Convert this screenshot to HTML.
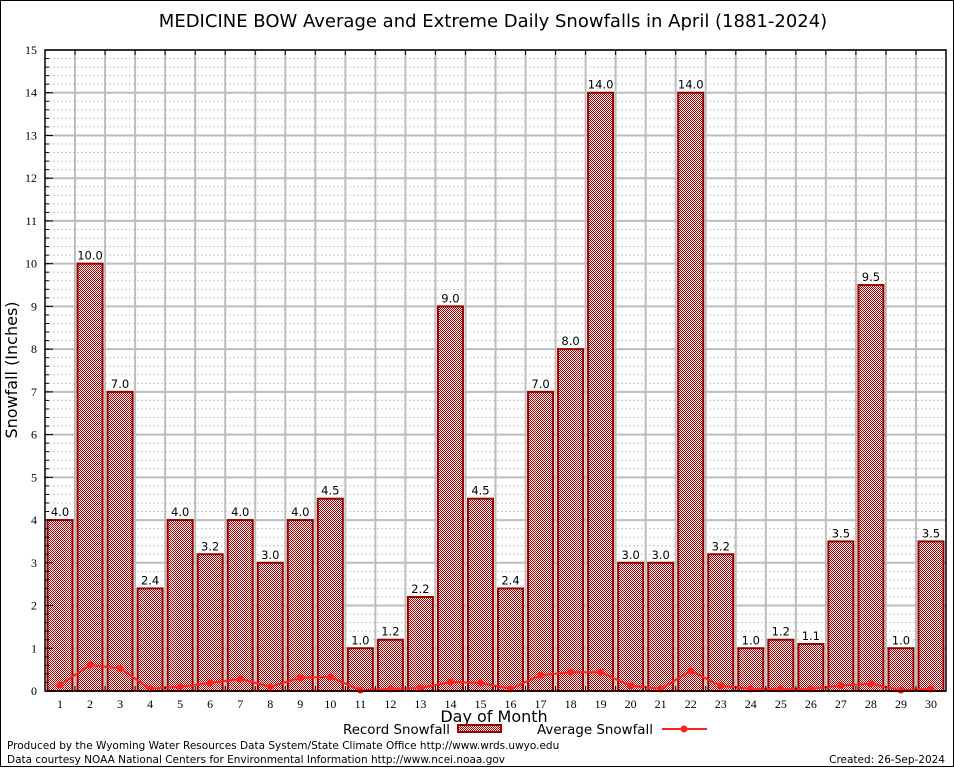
<!DOCTYPE html>
<html><head><meta charset="utf-8"><style>
html,body{margin:0;padding:0;background:#fff}
svg{display:block}
</style></head><body>
<svg id="chart" width="954" height="768" xmlns="http://www.w3.org/2000/svg" font-family="DejaVu Sans, Liberation Sans, sans-serif">
<defs>
<pattern id="chk" width="2" height="2" patternUnits="userSpaceOnUse">
<rect width="2" height="2" fill="#fff"/><rect width="1" height="1" fill="#a80000"/><rect x="1" y="1" width="1" height="1" fill="#a80000"/>
</pattern>
</defs>
<rect x="0.5" y="0.5" width="953" height="766" fill="#fff" stroke="#000"/>
<text x="493" y="27" text-anchor="middle" font-size="18">MEDICINE BOW Average and Extreme Daily Snowfalls in April (1881-2024)</text>
<g id="grid"></g>
<g id="bars"></g>
<g id="avg"></g>
<g id="axes"></g>
<text transform="translate(17,370) rotate(-90)" text-anchor="middle" font-size="16">Snowfall (Inches)</text>
<text x="494" y="722" text-anchor="middle" font-size="16">Day of Month</text>
<g>
<text x="343" y="734" font-size="13" textLength="107" lengthAdjust="spacingAndGlyphs">Record Snowfall</text>
<rect x="458" y="725" width="43" height="7" fill="url(#chk)" stroke="#990000" stroke-width="2"/>
</g>
<g>
<text x="537" y="734" font-size="13" textLength="116" lengthAdjust="spacingAndGlyphs">Average Snowfall</text>
<line x1="662" y1="729" x2="707" y2="729" stroke="#ff2020" stroke-width="2"/>
<circle cx="684" cy="729" r="3.5" fill="#ff2020"/>
</g>
<text x="7" y="749" font-size="10.5">Produced by the Wyoming Water Resources Data System/State Climate Office http://www.wrds.uwyo.edu</text>
<text x="7" y="763" font-size="10.5">Data courtesy NOAA National Centers for Environmental Information http://www.ncei.noaa.gov</text>
<text x="945" y="763" text-anchor="end" font-size="10.5">Created: 26-Sep-2024</text>
</svg>
<script>
const days=[1,2,3,4,5,6,7,8,9,10,11,12,13,14,15,16,17,18,19,20,21,22,23,24,25,26,27,28,29,30];
const recordValues=[4.0,10.0,7.0,2.4,4.0,3.2,4.0,3.0,4.0,4.5,1.0,1.2,2.2,9.0,4.5,2.4,7.0,8.0,14.0,3.0,3.0,14.0,3.2,1.0,1.2,1.1,3.5,9.5,1.0,3.5];
const averageValues=[0.14,0.61,0.53,0.05,0.1,0.19,0.28,0.1,0.31,0.33,0.02,0.05,0.07,0.21,0.19,0.05,0.37,0.44,0.44,0.12,0.05,0.47,0.12,0.05,0.05,0.05,0.13,0.17,0.02,0.05];
const yTicks=[0,1,2,3,4,5,6,7,8,9,10,11,12,13,14,15];
const NS='http://www.w3.org/2000/svg';
const L=45,R=946,T=50,B=691,YMAX=15;
const bw=(R-L)/days.length;
const xS=i=>L+bw*(i+0.5);
const yS=v=>B-(v/YMAX)*(B-T);
function mk(tag,attrs,parent){const e=document.createElementNS(NS,tag);for(const k in attrs)e.setAttribute(k,attrs[k]);parent.appendChild(e);return e;}
const grid=document.getElementById('grid'),bars=document.getElementById('bars'),avg=document.getElementById('avg'),axes=document.getElementById('axes');
for(let v=0.2;v<YMAX;v+=0.2){const g=mk('line',{x1:L,x2:R,y1:yS(v),y2:yS(v),stroke:'#c8c8c8','stroke-width':1,'stroke-dasharray':'2,2'},grid);

}
yTicks.forEach(v=>{const g=mk('line',{x1:L,x2:R,y1:yS(v),y2:yS(v),stroke:'#bdbdbd','stroke-width':2},grid);


const t=mk('text',{x:L-8,y:yS(v)+4,'text-anchor':'end','font-size':12,'font-family':'Liberation Serif, serif'},axes);t.textContent=v;


mk('line',{x1:L,x2:L+8,y1:yS(v),y2:yS(v),stroke:'#000','stroke-width':1},axes);});
for(let v=0.2;v<YMAX;v+=0.2){mk('line',{x1:L,x2:L+4,y1:yS(v),y2:yS(v),stroke:'#000','stroke-width':1},axes);}
for(let i=1;i<days.length;i++){const x=L+bw*i;const g=mk('line',{x1:x,x2:x,y1:T,y2:B,stroke:'#bdbdbd','stroke-width':2},grid);


mk('line',{x1:x,x2:x,y1:T,y2:T+5,stroke:'#000'},axes);mk('line',{x1:x,x2:x,y1:B,y2:B-5,stroke:'#000'},axes);}
days.forEach((d,i)=>{
const v=recordValues[i],x=xS(i);
const r=mk('rect',{x:x-12.5,y:yS(v),width:25,height:B-yS(v),fill:'url(#chk)',stroke:'#990000','stroke-width':2},bars);


const lbw=v>=10?26:20;
mk('rect',{x:x-lbw/2,y:yS(v)-15,width:lbw,height:13,fill:'#fff'},bars);
const t=mk('text',{x:x,y:yS(v)-4,'text-anchor':'middle','font-size':11.5},bars);t.textContent=v.toFixed(1);


const tl=mk('text',{x:x,y:B+17,'text-anchor':'middle','font-size':12,'font-family':'Liberation Serif, serif'},axes);tl.textContent=d;


});
const pl=mk('polyline',{points:averageValues.map((v,i)=>xS(i)+','+yS(v)).join(' '),fill:'none',stroke:'#ff2020','stroke-width':2},avg);


averageValues.forEach((v,i)=>{const c=mk('circle',{cx:xS(i),cy:yS(v),r:3.5,fill:'#ff2020'},avg);

});
mk('rect',{x:L,y:T,width:R-L,height:B-T,fill:'none',stroke:'#000','stroke-width':1.5},axes);
</script>
</body></html>
